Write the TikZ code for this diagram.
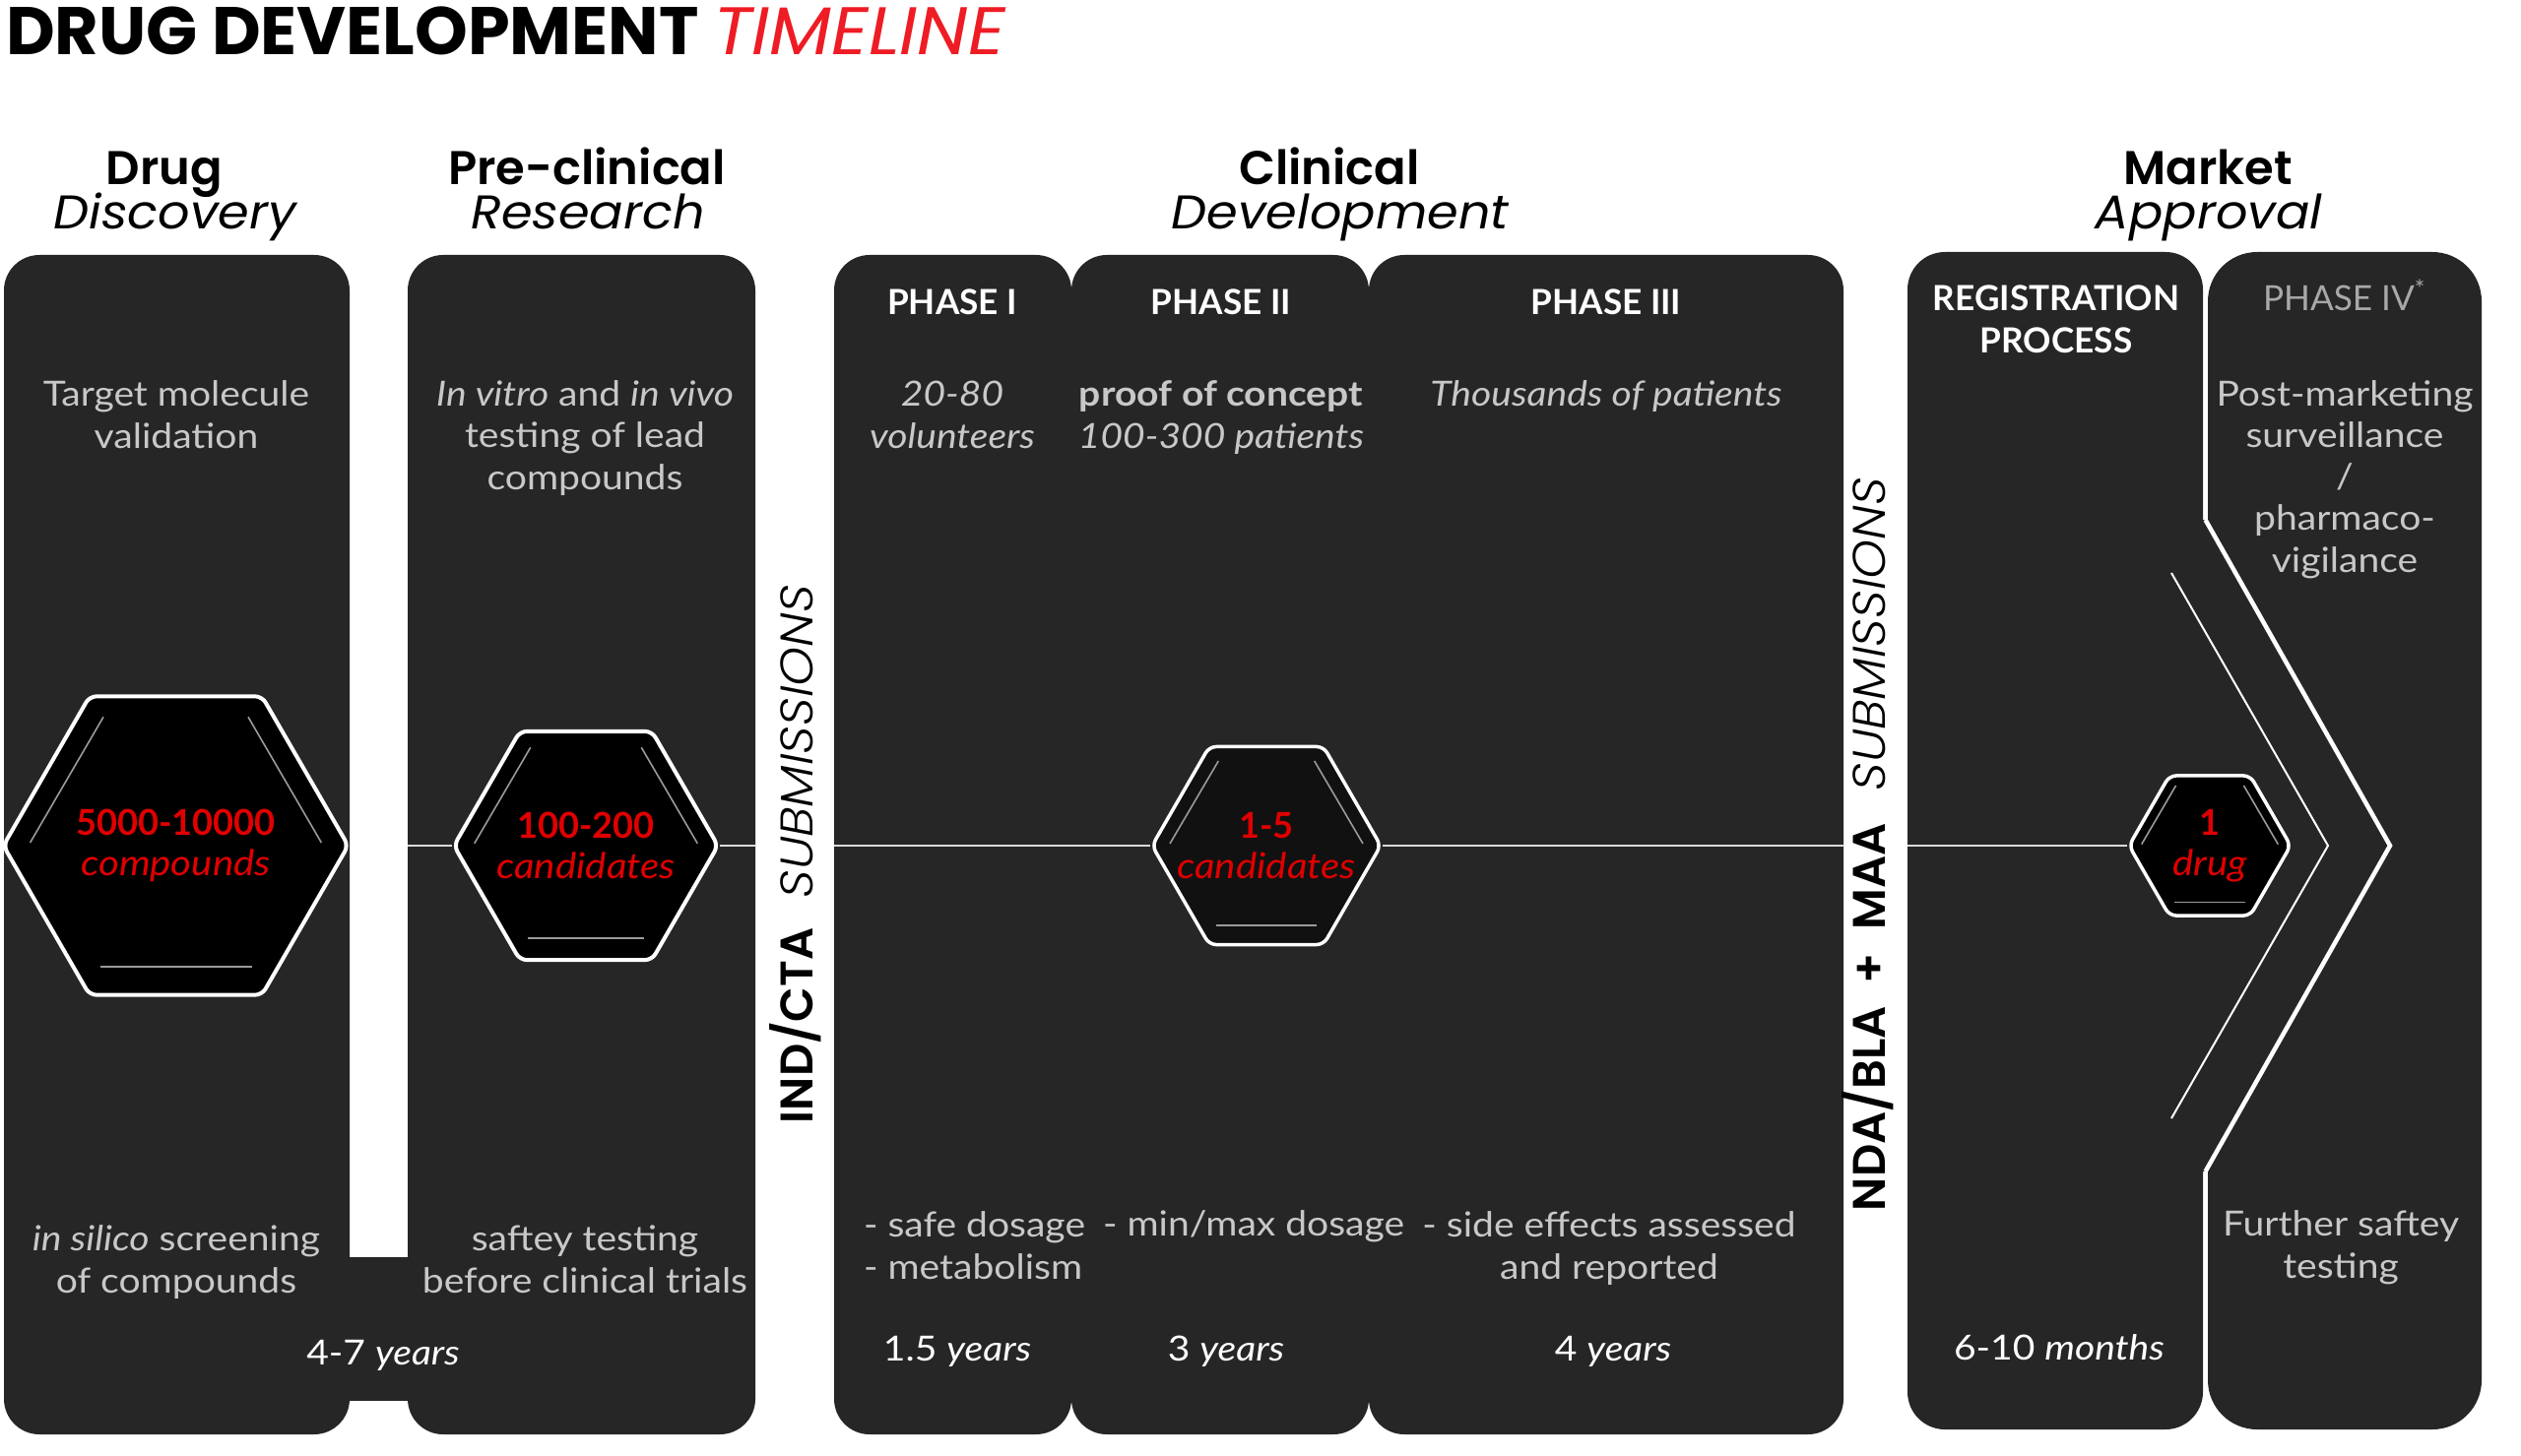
\documentclass[tikz,border=0pt]{standalone}
\usepackage{fontspec}
\setmainfont{Lato}[FakeStretch=1.11]
\newfontfamily\plainlato{Lato}
\newfontfamily\popfont{Poppins}
\newfontfamily\popwide{Poppins}[FakeStretch=1.07]
\newfontfamily\popsecit{Poppins}[FakeStretch=1.06]
\newfontfamily\popsemi{Poppins SemiBold}
\newfontfamily\poplit{Poppins Light Italic}[FakeStretch=1.09]
\usetikzlibrary{shapes.geometric}
\definecolor{boxdark}{HTML}{262626}
\definecolor{bodygrey}{HTML}{C8C8C8}
\definecolor{dimgrey}{HTML}{A8A8A8}
\definecolor{hexred}{HTML}{E00000}
\definecolor{titlered}{HTML}{EE1C24}
\definecolor{decogrey}{HTML}{9A9A9A}
\definecolor{hlinecol}{HTML}{DADADA}
\definecolor{hexdark}{HTML}{111111}
\tikzset{
  lbl/.style={inner sep=0pt, outer sep=0pt},
  body/.style={lbl, text=bodygrey, align=center, font=\fontsize{10}{11.95}\selectfont},
  bodyl/.style={lbl, text=bodygrey, align=left, font=\fontsize{10}{11.95}\selectfont},
  phead/.style={lbl, text=white, align=center, font=\plainlato\bfseries\fontsize{10}{12.2}\selectfont},
  yrs/.style={lbl, text=white, font=\fontsize{10}{11.95}\selectfont},
  secta/.style={lbl, font=\popsemi\fontsize{13.66}{16}\selectfont},
  sectb/.style={lbl, font=\popsecit\itshape\fontsize{13.66}{16}\selectfont},
  vtxt/.style={lbl, rotate=90, anchor=base west, font=\fontsize{13.2}{16}\selectfont},
  hexa/.style={regular polygon, regular polygon sides=6, draw=white, line width=0.04cm,
    fill=black, rounded corners=0.07cm, inner sep=0pt},
  hextext/.style={lbl, align=center, text=hexred, font=\fontsize{10.3}{11.7}\selectfont},
  deco/.style={decogrey, line width=0.016cm},
  hline/.style={hlinecol, line width=0.025cm},
  boxfill/.style={fill=boxdark},
}
\newcommand\hexdeco[3]{%
  \draw[deco] ([shift={(-0.845*#2,-0.02*#3)}]#1.center) -- ([shift={(-0.42*#2,-0.86*#3)}]#1.center);
  \draw[deco] ([shift={(0.845*#2,-0.02*#3)}]#1.center) -- ([shift={(0.42*#2,-0.86*#3)}]#1.center);
  \draw[deco] ([shift={(-0.44*#2,0.81*#3)}]#1.center) -- ([shift={(0.44*#2,0.81*#3)}]#1.center);
}
\newcommand\hexnum[1]{{\plainlato\bfseries #1}}
\begin{document}
\begin{tikzpicture}[x=0.01cm, y=-0.01cm]
\useasboundingbox (0,0) rectangle (2560,1479);
\fill[white] (0,0) rectangle (2560,1479);

% title
\node[lbl, anchor=base west, font=\popfont\bfseries\fontsize{19.45}{22}\selectfont] (title) at (6,56)
  {DRUG DEVELOPMENT {\popwide\mdseries\itshape\color{titlered}TIMELINE}};

% section headers
\node[secta, anchor=base] (hd1a) at (167,188) {Drug};
\node[sectb, anchor=base] (hd1b) at (178,233) {Discovery};
\node[secta, anchor=base] (hd2a) at (596,188) {Pre-clinical};
\node[sectb, anchor=base] (hd2b) at (597,233) {Research};
\node[secta, anchor=base] (hd3a) at (1350,188) {Clinical};
\node[sectb, anchor=base] (hd3b) at (1361,233) {Development};
\node[secta, anchor=base] (hd4a) at (2242,188) {Market};
\node[sectb, anchor=base] (hd4b) at (2243,233) {Approval};

% boxes
\fill[boxfill, rounded corners=0.36cm] (4,259) rectangle (355,1457);
\fill[boxfill, rounded corners=0.36cm] (414,259) rectangle (767,1457);
\fill[boxfill] (350,1277) rectangle (420,1423);
\fill[boxfill, rounded corners=0.36cm] (847,259) rectangle (1088,1457);
\fill[boxfill, rounded corners=0.36cm] (1088,259) rectangle (1390,1457);
\fill[boxfill, rounded corners=0.36cm] (1390,259) rectangle (1872,1457);
\fill[boxfill, rounded corners=0.38cm] (1937,256) rectangle (2237,1452);
\fill[boxfill, rounded corners=0.5cm] (2242,256) rectangle (2520,1452);
\fill[boxfill] (2230,528) rectangle (2250,1190);
\fill[boxfill] (2230,528) -- (2427,859) -- (2230,1190) -- cycle;
\draw[white, line width=0.045cm] (2239.5,528) -- (2427,859) -- (2239.5,1190);
\draw[white, line width=0.02cm] (2205,582) -- (2364,859) -- (2205,1136);

% edge coordinates of the timeline
\coordinate (b2l) at (414,859);
\coordinate (b2r) at (767,859);
\coordinate (p1l) at (847,859);
\coordinate (p3r) at (1872,859);
\coordinate (rgl) at (1937,859);

% hexagons
\node[hexa, minimum size=3.5cm] (h1) at (178.5,859) {};
\node[hexa, minimum size=2.68cm] (h2) at (595,859) {};
\node[hexa, minimum size=2.32cm, fill=hexdark, line width=0.035cm] (h3) at (1286,859) {};
\node[hexa, minimum size=1.64cm, line width=0.035cm] (h4) at (2244,859) {};

\draw[hline] (b2l) -- (h2.west);
\draw[hline] (h2.east) -- (b2r);
\draw[hline] (p1l) -- (h3.west);
\draw[hline] (h3.east) -- (p3r);
\draw[hline] (rgl) -- (h4.west);

\hexdeco{h1}{175}{152}
\hexdeco{h2}{134}{116}
\hexdeco{h3}{116}{100}
\hexdeco{h4}{82}{71}

\node[hextext] (x1) at (h1.center) {\hexnum{5000-10000}\\\textit{compounds}};
\node[hextext] (x2) at (h2.center) {\hexnum{100-200}\\\textit{candidates}};
\node[hextext] (x3) at (h3.center) {\hexnum{1-5}\\\textit{candidates}};
\node[hextext] (x4) at (h4.center) {\hexnum{1}\\\textit{drug}};

% vertical submissions
\node[vtxt] (ind) at (825,1141)
  {{\popsemi IND/CTA}\hspace{8.5pt}{\poplit SUBMISSIONS}};
\node[vtxt] (nda) at (1914,1230)
  {{\popsemi NDA/BLA\hspace{3.5pt} + \hspace{3.5pt}MAA}\hspace{9.3pt}{\poplit SUBMISSIONS}};

% Drug discovery texts (base = last line)
\node[body, anchor=base] (t1) at (179,455) {Target molecule\\validation};
\node[body, anchor=base] (bt1) at (179,1313) {\textit{in silico} screening\\of compounds};
% Pre-clinical texts
\node[body, anchor=base] (t2) at (594,497) {\textit{In vitro} and \textit{in vivo}\\testing of lead\\compounds};
\node[body, anchor=base] (bt2) at (594,1313) {saftey testing\\before clinical trials};
\node[yrs, anchor=base] (y1) at (389,1386) {4-7 \textit{years}};

% Phase I
\node[phead, anchor=base] (ph1) at (967,320) {PHASE I};
\node[body, anchor=base] (t3) at (967,455) {\textit{20-80}\\\textit{volunteers}};
\node[bodyl, anchor=base west] (bt3) at (877,1299) {- safe dosage\\- metabolism};
\node[yrs, anchor=base] (y2) at (972,1382) {1.5 \textit{years}};
% Phase II
\node[phead, anchor=base] (ph2) at (1240,320) {PHASE II};
\node[body, anchor=base] (t4) at (1240,455) {\textbf{proof of concept}\\\textit{100-300 patients}};
\node[bodyl, anchor=base west] (bt4) at (1120,1255) {- min/max dosage};
\node[yrs, anchor=base] (y3) at (1245,1382) {3 \textit{years}};
% Phase III
\node[phead, anchor=base] (ph3) at (1631,320) {PHASE III};
\node[body, anchor=base] (t5) at (1631,412) {\textit{Thousands of patients}};
\node[body, anchor=base] (bt5) at (1634,1299) {- side effects assessed\\and reported};
\node[yrs, anchor=base] (y4) at (1638,1382) {4 \textit{years}};
% Registration
\node[phead, anchor=base] (ph4) at (2088,358) {REGISTRATION\\PROCESS};
\node[yrs, anchor=base] (y5) at (2091,1381) {6-10 \textit{months}};
% Phase IV
\node[phead, anchor=base, text=dimgrey, font=\plainlato\fontsize{10}{12.2}\selectfont] (ph5) at (2381,315) {PHASE IV\textsuperscript{*}};
\node[body, anchor=base] (t6) at (2381,581) {Post-marketing\\surveillance\\/\\pharmaco-\\vigilance};
\node[body, anchor=base] (bt6) at (2377,1298) {Further saftey\\testing};
\end{tikzpicture}
\end{document}
